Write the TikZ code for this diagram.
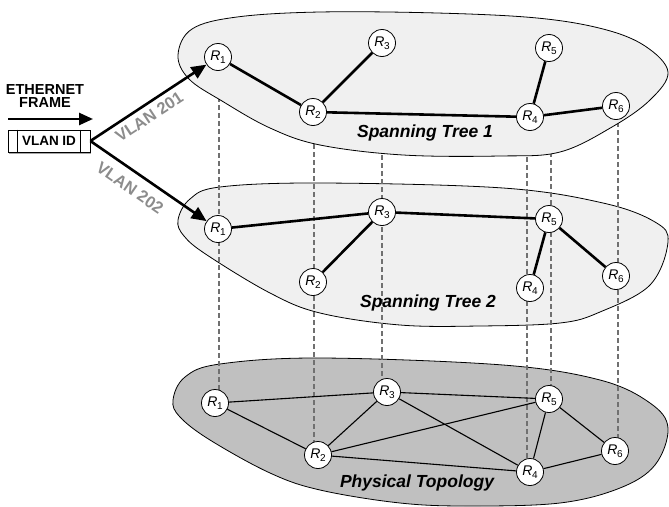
\documentclass[tikz,border=0pt]{standalone}
\usepackage{fontspec}
\setmainfont{Liberation Sans}
\usetikzlibrary{arrows.meta}
\pgfdeclarelayer{back}
\pgfsetlayers{back,main}
\definecolor{blobA}{HTML}{F0F0F0}
\definecolor{blobB}{HTML}{C0C0C0}
\definecolor{dashgray}{HTML}{707070}
\definecolor{vlangray}{HTML}{8C8C8C}
\newcommand{\rt}[1]{\textit{R}\kern-0.3pt\raisebox{-3.5pt}{\fontsize{10}{10}\selectfont #1}}
\tikzset{
  rnode/.style={circle, draw=black, line width=0.8pt, fill=white, minimum size=27pt, inner sep=0pt, font=\fontsize{14}{14}\selectfont},
  treeedge/.style={line width=2.6pt},
  physedge/.style={line width=1.1pt},
  blobline/.style={line width=0.8pt, draw=black},
  vdash/.style={dash pattern=on 5pt off 3pt, line width=1.3pt, draw=dashgray},
  bigarrow/.style={line width=2.6pt, -{Triangle[length=15pt,width=13pt]}},
  layertitle/.style={font=\bfseries\itshape\fontsize{17.5}{19}\selectfont},
  vlanlabel/.style={font=\bfseries\fontsize{16.5}{17}\selectfont, text=vlangray, sloped, inner sep=0pt}
}
\begin{document}
\begin{tikzpicture}[x=1pt,y=-1pt]
\useasboundingbox (0,0) rectangle (669,506);

% nodes layer 2
\node[rnode] (m1) at (218,229) {\rt{1}};
\node[rnode] (m2) at (313,282) {\rt{2}};
\node[rnode] (m3) at (382,212) {\rt{3}};
\node[rnode] (m4) at (530,288) {\rt{4}};
\node[rnode] (m5) at (549,219) {\rt{5}};
\node[rnode] (m6) at (616,276) {\rt{6}};
% nodes layer 3
\node[rnode] (p1) at (215,403) {\rt{1}};
\node[rnode] (p2) at (318,455) {\rt{2}};
\node[rnode] (p3) at (387,392) {\rt{3}};
\node[rnode] (p4) at (530,472) {\rt{4}};
\node[rnode] (p5) at (549,399) {\rt{5}};
\node[rnode] (p6) at (615,451) {\rt{6}};
% layer 1 anchor points for the dashed lines
\coordinate (c1) at (219,57);
\coordinate (c2) at (314,112);
\coordinate (c3) at (382,43);
\coordinate (c4) at (527,117);
\coordinate (c5) at (551,48);
\coordinate (c6) at (618,106);

\begin{pgfonlayer}{back}
% blob 3 (physical)
\filldraw[blobline, fill=blobB] plot[smooth cycle, tension=0.6] coordinates {
 (173,400) (185,377) (220,364) (320,358) (503,365) (600,380) (650,403) (668,428)
 (655,465) (620,488) (560,503) (470,506) (400,503) (320,490) (270,473) (210,440) (180,417)};
% blob 2
\filldraw[blobline, fill=blobA] plot[smooth cycle, tension=0.6] coordinates {
 (178,220) (190,199) (220,187) (320,183) (503,188) (603,203) (655,222) (668,242)
 (650,285) (600,312) (560,323) (480,326) (400,325) (320,313) (270,293) (207,255) (184,236)};
\foreach \i in {1,...,6}{
  \draw[vdash] (c\i) -- (c\i |- p\i);
}
\end{pgfonlayer}

% layer 2 edges
\draw[treeedge] (m1) -- (m3);
\draw[treeedge] (m3) -- (m5);
\draw[treeedge] (m3) -- (m2);
\draw[treeedge] (m5) -- (m4);
\draw[treeedge] (m5) -- (m6);
% layer 3 edges
\draw[physedge] (p1) -- (p3);
\draw[physedge] (p1) -- (p2);
\draw[physedge] (p2) -- (p3);
\draw[physedge] (p2) -- (p5);
\draw[physedge] (p2) -- (p4);
\draw[physedge] (p3) -- (p5);
\draw[physedge] (p3) -- (p4);
\draw[physedge] (p5) -- (p4);
\draw[physedge] (p5) -- (p6);
\draw[physedge] (p4) -- (p6);

% blob 1
\filldraw[blobline, fill=blobA] plot[smooth cycle, tension=0.6] coordinates {
 (178,55) (192,29) (237,17) (320,12) (437,13) (537,18) (603,29) (645,46) (668,72)
 (650,100) (612,127) (560,152) (500,156) (403,155) (320,145) (270,128) (222,101) (189,79)};

% nodes layer 1
\node[rnode] (t1) at (218,57) {\rt{1}};
\node[rnode] (t2) at (313,112) {\rt{2}};
\node[rnode] (t3) at (382,43) {\rt{3}};
\node[rnode] (t4) at (530,117) {\rt{4}};
\node[rnode] (t5) at (549,48) {\rt{5}};
\node[rnode] (t6) at (616,106) {\rt{6}};
\draw[treeedge] (t1) -- (t2);
\draw[treeedge] (t2) -- (t3);
\draw[treeedge] (t2) -- (t4);
\draw[treeedge] (t4) -- (t5);
\draw[treeedge] (t4) -- (t6);

% titles
\node[layertitle] (title1) at (425,133) {Spanning Tree 1};
\node[layertitle] (title2) at (428,303) {Spanning Tree 2};
\node[layertitle] (title3) at (417,483) {Physical Topology};

% left part
\node[font=\bfseries\fontsize{14.5}{13.5}\selectfont, align=center, inner sep=0pt] (eth) at (45,96) {ETHERNET\\FRAME};
\coordinate (ea) at (8,119);
\coordinate (eb) at (93,119);
\draw[line width=2.6pt, -{Triangle[length=14pt,width=12pt]}] (ea) -- (eb);
\fill[gray!70] (8.5,151) rectangle (90.5,154);
\node[draw=black, line width=0.8pt, fill=white, minimum width=82pt, minimum height=22pt, inner sep=0pt, font=\bfseries\fontsize{13.5}{13.5}\selectfont] (vlan) at (49,141) {VLAN ID};
\draw[line width=0.8pt] ([xshift=10pt]vlan.north west) -- ([xshift=10pt]vlan.south west);
\draw[line width=0.8pt] ([xshift=-10pt]vlan.north east) -- ([xshift=-10pt]vlan.south east);

\draw[bigarrow] (vlan.east) -- node[vlanlabel, pos=0.45, below=5pt] {VLAN 201} (t1);
\draw[bigarrow] (vlan.east) -- node[vlanlabel, pos=0.42, below=9pt] {VLAN 202} (m1);
\end{tikzpicture}
\end{document}
